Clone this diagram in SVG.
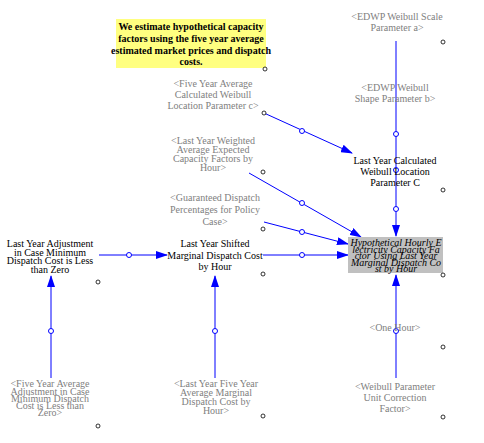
<svg xmlns="http://www.w3.org/2000/svg" width="484" height="443" viewBox="0 0 484 443">
<style>
text{font-family:"Liberation Serif","Times New Roman",serif;font-size:10px;text-anchor:middle}
.g{fill:#808080}
.k{fill:#000}
.t{font-style:italic;fill:#000}
.c{fill:#000}
.ln{stroke:#0000ff;stroke-width:1;fill:none}
.mid{fill:#fff;stroke:#0000ff;stroke-width:1}
.dia{fill:#fff;stroke:#000;stroke-width:0.8}
</style>
<defs>
<marker id="ah" markerWidth="12" markerHeight="8" refX="11" refY="4" orient="auto" markerUnits="userSpaceOnUse">
<path d="M0,0 L12,4 L0,8 Z" fill="#0000ff"/>
</marker>
</defs>
<rect width="484" height="443" fill="#fff"/>
<g id="connectors">
<line class="ln" x1="396" y1="41" x2="396" y2="236" marker-end="url(#ah)"/>
<line class="ln" x1="264" y1="113" x2="352" y2="153" marker-end="url(#ah)"/>
<line class="ln" x1="249" y1="173" x2="361" y2="237" marker-end="url(#ah)"/>
<line class="ln" x1="264" y1="222" x2="348" y2="244" marker-end="url(#ah)"/>
<line class="ln" x1="263" y1="255" x2="348" y2="255" marker-end="url(#ah)"/>
<line class="ln" x1="99" y1="255" x2="167" y2="255" marker-end="url(#ah)"/>
<line class="ln" x1="51" y1="378" x2="51" y2="276" marker-end="url(#ah)"/>
<line class="ln" x1="215" y1="378" x2="215" y2="276" marker-end="url(#ah)"/>
<line class="ln" x1="396" y1="378" x2="396" y2="275" marker-end="url(#ah)"/>
<circle class="mid" cx="396" cy="134" r="2.5"/>
<circle class="mid" cx="396" cy="170" r="2.5"/>
<circle class="mid" cx="396" cy="209" r="2.5"/>
<circle class="mid" cx="302" cy="131" r="2.5"/>
<circle class="mid" cx="302" cy="203" r="2.5"/>
<circle class="mid" cx="302" cy="232" r="2.5"/>
<circle class="mid" cx="302" cy="255" r="2.5"/>
<circle class="mid" cx="129" cy="255" r="2.5"/>
<circle class="mid" cx="51" cy="331" r="2.5"/>
<circle class="mid" cx="215" cy="331" r="2.5"/>
<circle class="mid" cx="396" cy="331" r="2.5"/>
</g>
<g id="comment">
<rect x="116" y="19" width="150" height="49" fill="#ffff80"/>
<text class="c" font-weight="bold" x="191" y="30">We estimate hypothetical capacity</text>
<text class="c" font-weight="bold" x="191" y="42">factors using the five year average</text>
<text class="c" font-weight="bold" x="191" y="54">estimated market prices and dispatch</text>
<text class="c" font-weight="bold" x="191" y="65">costs.</text>
<circle class="dia" cx="265" cy="69" r="2"/>
</g>
<g id="edwp-scale">
<text class="g" x="397" y="20">&lt;EDWP Weibull Scale</text>
<text class="g" x="397" y="31">Parameter a&gt;</text>
<circle class="dia" cx="443" cy="42" r="2"/>
</g>
<g id="edwp-shape">
<text class="g" x="395" y="91">&lt;EDWP Weibull</text>
<text class="g" x="395" y="102">Shape Parameter b&gt;</text>
</g>
<g id="five-year-location">
<text class="g" x="213" y="87">&lt;Five Year Average</text>
<text class="g" x="213" y="98">Calculated Weibull</text>
<text class="g" x="213" y="109">Location Parameter c&gt;</text>
<circle class="dia" cx="264" cy="113" r="2"/>
</g>
<g id="last-year-location">
<text class="k" x="395" y="164">Last Year Calculated</text>
<text class="k" x="395" y="175">Weibull Location</text>
<text class="k" x="395" y="186">Parameter C</text>
<circle class="dia" cx="443" cy="190" r="2"/>
</g>
<g id="weighted-capacity">
<text class="g" x="213" y="144">&lt;Last Year Weighted</text>
<text class="g" x="213" y="153">Average Expected</text>
<text class="g" x="213" y="162">Capacity Factors by</text>
<text class="g" x="213" y="171">Hour&gt;</text>
<circle class="dia" cx="263" cy="172" r="2"/>
</g>
<g id="guaranteed">
<text class="g" x="215" y="201">&lt;Guaranteed Dispatch</text>
<text class="g" x="215" y="213">Percentages for Policy</text>
<text class="g" x="215" y="225">Case&gt;</text>
<circle class="dia" cx="263" cy="229" r="2"/>
</g>
<g id="shifted">
<text class="k" x="215" y="247">Last Year Shifted</text>
<text class="k" x="215" y="259">Marginal Dispatch Cost</text>
<text class="k" x="215" y="270">by Hour</text>
<circle class="dia" cx="263" cy="274" r="2"/>
</g>
<g id="adjustment">
<text class="k" x="50" y="247">Last Year Adjustment</text>
<text class="k" x="50" y="255.5">in Case Minimum</text>
<text class="k" x="50" y="264">Dispatch Cost is Less</text>
<text class="k" x="50" y="273">than Zero</text>
<circle class="dia" cx="98" cy="282" r="2"/>
</g>
<g id="target">
<rect x="348" y="237" width="95" height="36" fill="#c0c0c0"/>
<text class="t" x="396" y="246">Hypothetical Hourly E</text>
<text class="t" x="396" y="252.5">lectricity Capacity Fa</text>
<text class="t" x="396" y="259">ctor Using Last Year</text>
<text class="t" x="396" y="265.5">Marginal Dispatch Co</text>
<text class="t" x="396" y="272">st by Hour</text>
<circle class="dia" cx="443" cy="275" r="2"/>
</g>
<g id="five-year-adjustment">
<text class="g" x="50" y="387">&lt;Five Year Average</text>
<text class="g" x="50" y="394.5">Adjustment in Case</text>
<text class="g" x="50" y="401.5">Minimum Dispatch</text>
<text class="g" x="50" y="409">Cost is Less than</text>
<text class="g" x="50" y="415.5">Zero&gt;</text>
<circle class="dia" cx="98" cy="426" r="2"/>
</g>
<g id="five-year-marginal">
<text class="g" x="216" y="387">&lt;Last Year Five Year</text>
<text class="g" x="216" y="396">Average Marginal</text>
<text class="g" x="216" y="405">Dispatch Cost by</text>
<text class="g" x="216" y="414">Hour&gt;</text>
<circle class="dia" cx="263" cy="416" r="2"/>
</g>
<g id="one-hour">
<text class="g" x="395" y="331">&lt;One Hour&gt;</text>
<circle class="dia" cx="443" cy="347" r="2"/>
</g>
<g id="unit-correction">
<text class="g" x="395" y="390">&lt;Weibull Parameter</text>
<text class="g" x="395" y="401">Unit Correction</text>
<text class="g" x="395" y="412">Factor&gt;</text>
<circle class="dia" cx="443" cy="417" r="2"/>
</g>
</svg>
